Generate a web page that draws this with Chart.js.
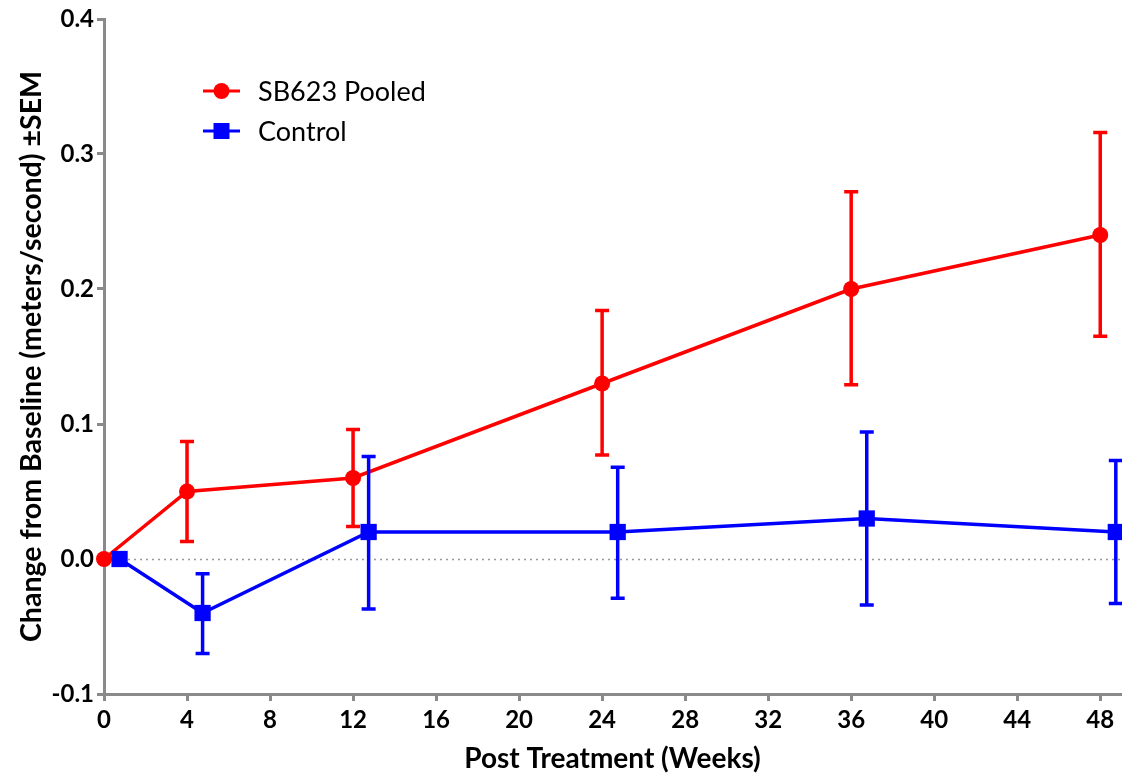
<!DOCTYPE html>
<html>
<head>
<meta charset="utf-8">
<script src="https://cdn.jsdelivr.net/npm/chart.js@4.4.1/dist/chart.umd.min.js"></script>
<style>
  html, body { margin: 0; padding: 0; background: #fff; }
  canvas { display: block; }
</style>
</head>
<body>
<canvas id="weeksChart" width="1122" height="776"></canvas>
<script>
// data
const xTicks = [0, 4, 8, 12, 16, 20, 24, 28, 32, 36, 40, 44, 48];
const yTicks = [-0.1, 0.0, 0.1, 0.2, 0.3, 0.4];

const pooledWeeks = [0, 4, 12, 24, 36, 48];
const pooledMean = [0, 0.05, 0.06, 0.13, 0.20, 0.24];
const pooledLow = [0, 0.013, 0.024, 0.077, 0.129, 0.165];
const pooledHigh = [0, 0.087, 0.096, 0.184, 0.272, 0.316];

// control is plotted slightly offset to the right
const controlWeeks = [0.75, 4.75, 12.75, 24.75, 36.75, 48.75];
const controlMean = [0, -0.04, 0.02, 0.02, 0.03, 0.02];
const controlLow = [0, -0.070, -0.037, -0.029, -0.034, -0.033];
const controlHigh = [0, -0.011, 0.076, 0.068, 0.094, 0.073];

const RED = "#ff0000";
const BLUE = "#0000ff";
const AXIS = "#8a8a8a";
const font = "Lato, 'Open Sans', sans-serif";

const toPoints = (xs, ys) => xs.map((x, i) => ({ x: x, y: ys[i] }));

// zero reference line (dotted)
const zeroLine = {
  id: "zeroLine",
  beforeDatasetsDraw(chart) {
    const { ctx, chartArea, scales } = chart;
    const y = Math.round(scales.y.getPixelForValue(0)) + 0.5;
    ctx.save();
    ctx.strokeStyle = "#999";
    ctx.lineWidth = 1.5;
    ctx.setLineDash([2, 4]);
    ctx.beginPath();
    ctx.moveTo(chartArea.left, y);
    ctx.lineTo(chartArea.right, y);
    ctx.stroke();
    ctx.restore();
  },
};

// SEM error bars, drawn just under each dataset's own line
const errorBars = {
  id: "errorBars",
  beforeDatasetDraw(chart, args) {
    const ds = chart.data.datasets[args.index];
    if (!ds.errLow) return;
    const { ctx, scales } = chart;
    const cap = 7;
    ctx.save();
    ctx.strokeStyle = ds.borderColor;
    ctx.lineWidth = 3.5;
    ds.data.forEach((p, i) => {
      const lo = ds.errLow[i], hi = ds.errHigh[i];
      if (lo === hi) return;
      const x = scales.x.getPixelForValue(p.x);
      const y1 = scales.y.getPixelForValue(lo);
      const y2 = scales.y.getPixelForValue(hi);
      ctx.beginPath();
      ctx.moveTo(x, y1);
      ctx.lineTo(x, y2);
      ctx.moveTo(x - cap, y1);
      ctx.lineTo(x + cap, y1);
      ctx.moveTo(x - cap, y2);
      ctx.lineTo(x + cap, y2);
      ctx.stroke();
    });
    ctx.restore();
  },
};

// legend inside the plot, top-left
const insideLegend = {
  id: "insideLegend",
  afterDraw(chart) {
    const { ctx } = chart;
    const x0 = 203, x1 = 240, rowY = [91, 131];
    ctx.save();
    chart.data.datasets.forEach((ds, i) => {
      const y = rowY[i];
      ctx.strokeStyle = ds.borderColor;
      ctx.fillStyle = ds.borderColor;
      ctx.lineWidth = 3;
      ctx.beginPath();
      ctx.moveTo(x0, y);
      ctx.lineTo(x1, y);
      ctx.stroke();
      const cx = (x0 + x1) / 2;
      if (ds.pointStyle === "rect") {
        ctx.fillRect(cx - 8, y - 8, 16, 16);
      } else {
        ctx.beginPath();
        ctx.arc(cx, y, 8, 0, Math.PI * 2);
        ctx.fill();
      }
      ctx.fillStyle = "#000";
      ctx.font = "27px " + font;
      ctx.textBaseline = "middle";
      ctx.fillText(ds.label, 258, y + 1);
    });
    ctx.restore();
  },
};

new Chart(document.getElementById("weeksChart").getContext("2d"), {
  type: "line",
  data: {
    datasets: [
      {
        label: "SB623 Pooled",
        data: toPoints(pooledWeeks, pooledMean),
        errLow: pooledLow,
        errHigh: pooledHigh,
        borderColor: RED,
        backgroundColor: RED,
        borderWidth: 3.5,
        pointStyle: "circle",
        pointRadius: 8,
        pointBorderWidth: 0,
        tension: 0,
        clip: false,
        order: 1,
      },
      {
        label: "Control",
        data: toPoints(controlWeeks, controlMean),
        errLow: controlLow,
        errHigh: controlHigh,
        borderColor: BLUE,
        backgroundColor: BLUE,
        borderWidth: 3.5,
        pointStyle: "rect",
        pointRadius: 11.5,
        pointBorderWidth: 0,
        tension: 0,
        clip: false,
        order: 0,
      },
    ],
  },
  options: {
    responsive: false,
    devicePixelRatio: 1,
    animation: false,
    layout: { autoPadding: false, padding: { top: 19, right: 1, left: 0, bottom: 0 } },
    plugins: {
      legend: { display: false },
      tooltip: { enabled: false },
    },
    scales: {
      x: {
        type: "linear",
        min: 0,
        max: 49,
        afterBuildTicks: (axis) => {
          axis.ticks = xTicks.map((v) => ({ value: v }));
        },
        afterFit: (scale) => {
          scale.height = 82;
          scale.paddingLeft = 0;
          scale.paddingRight = 0;
        },
        border: { color: AXIS, width: 3 },
        grid: {
          drawOnChartArea: false,
          drawTicks: true,
          tickLength: 7,
          tickWidth: 3,
          tickColor: AXIS,
        },
        ticks: {
          color: "#000",
          font: { family: font, size: 24, weight: "bold" },
          padding: 5,
          maxRotation: 0,
        },
        title: {
          display: true,
          text: "Post Treatment (Weeks)",
          color: "#000",
          font: { family: font, size: 28, weight: "bold" },
          padding: { top: -8, bottom: 0 },
        },
      },
      y: {
        type: "linear",
        min: -0.1,
        max: 0.4,
        afterBuildTicks: (axis) => {
          axis.ticks = yTicks.map((v) => ({ value: v }));
        },
        afterFit: (scale) => {
          scale.width = 104;
          scale.paddingTop = 0;
          scale.paddingBottom = 0;
        },
        border: { color: AXIS, width: 3 },
        grid: {
          drawOnChartArea: false,
          drawTicks: true,
          tickLength: 7,
          tickWidth: 3,
          tickColor: AXIS,
        },
        ticks: {
          color: "#000",
          font: { family: font, size: 24, weight: "bold" },
          padding: 3,
          callback: (v) => Number(v).toFixed(1),
        },
        title: {
          display: true,
          text: "Change from Baseline (meters/second) ±SEM",
          color: "#000",
          font: { family: font, size: 28.5, weight: "bold" },
          padding: { top: 15, bottom: 0 },
        },
      },
    },
  },
  plugins: [zeroLine, errorBars, insideLegend],
});
</script>
</body>
</html>
